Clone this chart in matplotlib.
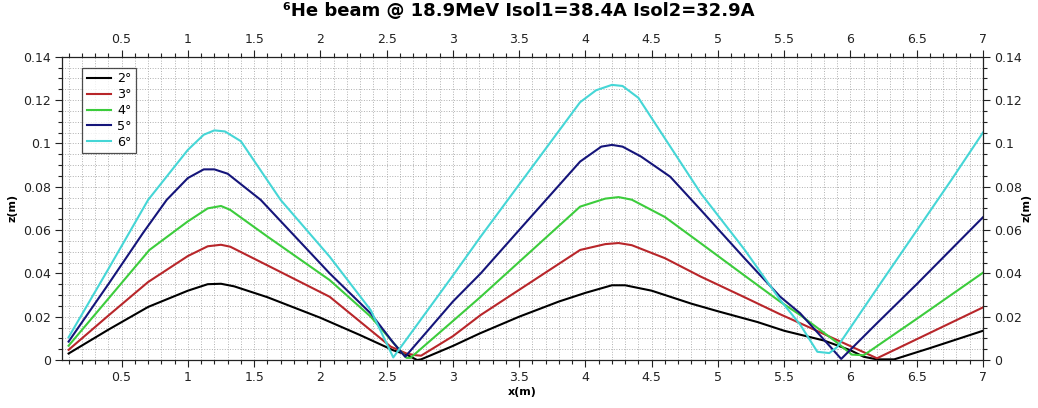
import matplotlib
matplotlib.use("Agg")
import matplotlib.pyplot as plt
from matplotlib.ticker import MultipleLocator, FuncFormatter

title = "\u2076He beam @ 18.9MeV Isol1=38.4A Isol2=32.9A"
labels = ["2\u00b0", "3\u00b0", "4\u00b0", "5\u00b0", "6\u00b0"]
colors = ["#000000", "#b8262a", "#3ccc3c", "#15157a", "#45d6d6"]

x_2 = [0.1, 0.4, 0.7, 1.0, 1.15, 1.25, 1.35, 1.6, 2.0, 2.3, 2.55, 2.65, 2.73, 2.76,
       3.0, 3.2, 3.5, 3.8, 4.0, 4.2, 4.3, 4.5, 4.8, 5.0, 5.3, 5.5, 5.8, 6.0, 6.1,
       6.2, 6.33, 6.6, 7.0]
z_2 = [0.003, 0.014, 0.0245, 0.032, 0.035, 0.0352, 0.034, 0.029, 0.0195, 0.0115,
       0.0045, 0.0025, 0.0, 0.0003, 0.0065, 0.0122, 0.020, 0.027, 0.031, 0.0345,
       0.0345, 0.032, 0.026, 0.0225, 0.0175, 0.0135, 0.009, 0.0045, 0.0015, 0.0003,
       0.0003, 0.0055, 0.0135]

x_3 = [0.1, 0.4, 0.7, 1.0, 1.15, 1.25, 1.32, 1.6, 2.07, 2.3, 2.53, 2.65, 2.72, 2.76,
       3.0, 3.21, 3.5, 3.96, 4.15, 4.25, 4.35, 4.6, 4.87, 5.2, 5.47, 5.62, 5.9, 6.05,
       6.2, 6.5, 7.0]
z_3 = [0.0047, 0.0205, 0.036, 0.048, 0.0525, 0.0532, 0.0523, 0.0437, 0.0292, 0.0177,
       0.0062, 0.003, 0.0022, 0.002, 0.011, 0.0208, 0.0324, 0.0508, 0.0535, 0.054,
       0.053, 0.047, 0.0385, 0.029, 0.0211, 0.017, 0.0092, 0.005, 0.0008, 0.0096,
       0.0243]

x_4 = [0.1, 0.4, 0.71, 1.0, 1.15, 1.25, 1.32, 1.6, 2.07, 2.38, 2.55, 2.65, 2.68,
       3.0, 3.21, 3.5, 3.96, 4.15, 4.25, 4.35, 4.6, 4.87, 5.2, 5.47, 5.62, 5.9, 6.01,
       6.1, 6.5, 7.0]
z_4 = [0.0066, 0.0283, 0.0508, 0.064, 0.070, 0.0711, 0.0693, 0.057, 0.0369, 0.020,
       0.008, 0.001, 0.001, 0.018, 0.0292, 0.0453, 0.0708, 0.0745, 0.0752, 0.074,
       0.066, 0.0539, 0.039, 0.0269, 0.0208, 0.008, 0.0025, 0.0022, 0.019, 0.0403]

x_5 = [0.1, 0.4, 0.66, 0.84, 1.0, 1.12, 1.2, 1.3, 1.55, 2.07, 2.38, 2.55, 2.64,
       3.0, 3.21, 3.5, 3.96, 4.12, 4.2, 4.28, 4.42, 4.64, 4.87, 5.2, 5.47, 5.62, 5.8,
       5.93, 6.2, 6.5, 7.0]
z_5 = [0.0085, 0.035, 0.0585, 0.0739, 0.084, 0.088, 0.088, 0.086, 0.0739, 0.040,
       0.0215, 0.008, 0.0015, 0.027, 0.040, 0.060, 0.0916, 0.0985, 0.0993, 0.0985,
       0.0939, 0.0846, 0.0693, 0.047, 0.0292, 0.0216, 0.0094, 0.0005, 0.017, 0.035,
       0.0659]

x_6 = [0.1, 0.4, 0.70, 1.0, 1.12, 1.2, 1.28, 1.4, 1.70, 2.07, 2.38, 2.55, 3.0, 3.21,
       3.5, 3.96, 4.08, 4.2, 4.28, 4.4, 4.87, 5.2, 5.47, 5.62, 5.75, 5.84, 5.9, 6.2,
       6.76, 7.0]
z_6 = [0.0105, 0.042, 0.0739, 0.097, 0.104, 0.106, 0.1055, 0.101, 0.0739, 0.0477,
       0.023, 0.0012, 0.039, 0.057, 0.081, 0.119, 0.1245, 0.127, 0.1265, 0.121,
       0.077, 0.051, 0.0277, 0.0164, 0.0038, 0.0032, 0.006, 0.033, 0.083, 0.105]

series_x = [x_2, x_3, x_4, x_5, x_6]
series_z = [z_2, z_3, z_4, z_5, z_6]

fig = plt.figure(figsize=(10.38, 4.08), dpi=100)
ax = fig.add_axes([0.0597, 0.1176, 0.8873, 0.7434])

for xs, zs, c, lab in zip(series_x, series_z, colors, labels):
    ax.plot(xs, zs, color=c, lw=1.5, label=lab)

ax.set_xlim(0.05, 7.0)
ax.set_ylim(0, 0.14)
ax.xaxis.set_major_locator(MultipleLocator(0.5))
ax.xaxis.set_minor_locator(MultipleLocator(0.1))
ax.yaxis.set_major_locator(MultipleLocator(0.02))
ax.yaxis.set_minor_locator(MultipleLocator(0.005))

def fmt(v, pos):
    s = ("%.3f" % v).rstrip("0").rstrip(".")
    return s
ax.xaxis.set_major_formatter(FuncFormatter(fmt))
ax.yaxis.set_major_formatter(FuncFormatter(fmt))

ax.tick_params(which="both", direction="out", top=True, right=True,
               labeltop=True, labelright=True, labelsize=9, colors="#222222",
               width=0.8)
ax.tick_params(which="major", length=5, pad=3)
ax.tick_params(which="minor", length=3)
for sp in ax.spines.values():
    sp.set_linewidth(0.9)
    sp.set_color("#222222")

ax.grid(which="both", linestyle=":", color="#b0b0b0", linewidth=0.7)
ax.set_axisbelow(True)

ax.set_xlabel("x(m)", fontsize=8, fontweight="bold", labelpad=2)
ax.set_ylabel("z(m)", fontsize=8, fontweight="bold", labelpad=4)
ax.text(1.047, 0.5, "z(m)", transform=ax.transAxes, rotation=90,
        fontsize=8, fontweight="bold", va="center", ha="center")
fig.suptitle(title, fontsize=13, fontweight="bold", y=0.995)

leg = ax.legend(loc="upper left", bbox_to_anchor=(0.022, 0.963), fontsize=9.2,
                frameon=True, fancybox=False, handlelength=1.9, handletextpad=0.5,
                borderpad=0.35, labelspacing=0.22, borderaxespad=0.0)
leg.get_frame().set_edgecolor("#222222")
leg.get_frame().set_linewidth(0.9)

fig.savefig("out.png", dpi=100)
